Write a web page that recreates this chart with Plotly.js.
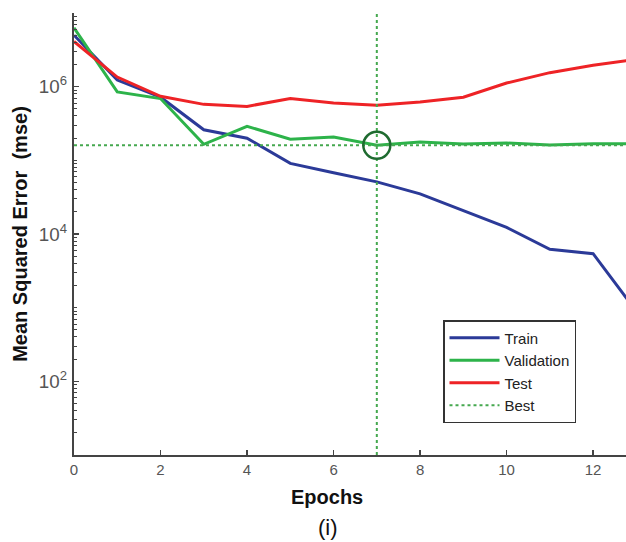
<!DOCTYPE html>
<html>
<head>
<meta charset="utf-8">
<script src="https://cdn.plot.ly/plotly-3.0.1.min.js"></script>
<style>html,body{margin:0;padding:0;background:#fff;}#plot{width:626px;height:542px;}</style>
</head>
<body>
<div id="plot"></div>
<script>
var epochs = [0,1,2,3,4,5,6,7,8,9,10,11,12,13];
var trainMSE = [5.0e6,1.23e6,7.2e5,2.6e5,2.0e5,9.1e4,6.8e4,5.1e4,3.5e4,2.1e4,1.23e4,6.2e3,5.4e3,890];
var valMSE   = [6.3e6,8.5e5,6.9e5,1.65e5,2.9e5,1.93e5,2.07e5,1.6e5,1.78e5,1.66e5,1.72e5,1.62e5,1.68e5,1.68e5];
var testMSE  = [4.1e6,1.35e6,7.4e5,5.75e5,5.4e5,6.9e5,6.0e5,5.6e5,6.2e5,7.2e5,1.12e6,1.55e6,1.95e6,2.35e6];
var bestEpoch = 7;
var bestVal = valMSE[bestEpoch];
var xMax = 12.76;
var seriesNames = ["Train","Validation","Test","Best"];

var cBlue = "#2b3a98", cGreen = "#2db34a", cRed = "#ee2326", cBest = "#45a84f";

var traces = [
  {x: epochs, y: trainMSE, mode: "lines", name: seriesNames[0], line: {color: cBlue, width: 3}},
  {x: epochs, y: valMSE, mode: "lines", name: seriesNames[1], line: {color: cGreen, width: 3}},
  {x: epochs, y: testMSE, mode: "lines", name: seriesNames[2], line: {color: cRed, width: 3}},
  {x: [0, 13], y: [bestVal, bestVal], mode: "lines", name: seriesNames[3], line: {color: cBest, width: 2, dash: "dot"}},
  {x: [bestEpoch, bestEpoch], y: [10, 1e7], mode: "lines", showlegend: false, line: {color: cBest, width: 2, dash: "dot"}},
  {x: [bestEpoch], y: [bestVal], mode: "markers", showlegend: false, yaxis: "y2",
   marker: {symbol: "circle-open", size: 27, color: "#1f6b30", line: {width: 2.5, color: "#1f6b30"}}}
];

var layout = {
  width: 626, height: 542,
  margin: {l: 74, r: 0, t: 13, b: 87},
  paper_bgcolor: "#fff", plot_bgcolor: "#fff",
  font: {family: "Liberation Sans, Arial, sans-serif", color: "#555"},
  showlegend: true,
  legend: {x: (443-74)/552, y: (455-320)/442, xanchor: "left", yanchor: "top",
    bgcolor: "#fff", bordercolor: "#333", borderwidth: 1.5, itemwidth: 50,
    font: {size: 15, color: "#222"}, tracegroupgap: 0},
  xaxis: {range: [0, xMax], tickmode: "array", tickvals: [0,2,4,6,8,10,12],
    ticks: "inside", ticklen: 5, tickwidth: 1.5, tickcolor: "#444",
    showline: true, linecolor: "#444", linewidth: 2, showgrid: false, zeroline: false,
    tickfont: {size: 15, color: "#555"}},
  yaxis: {type: "log", range: [1, 7], dtick: 2, exponentformat: "power",
    ticks: "inside", ticklen: 5, tickwidth: 1.5, tickcolor: "#444",
    showline: true, linecolor: "#444", linewidth: 2, showgrid: false, zeroline: false,
    tickfont: {size: 15, color: "#555"}, ticklabelstandoff: 2,
    title: {text: "Mean Squared Error  (mse)", font: {size: 20, color: "#111", weight: "bold"}, standoff: 6}},
  yaxis2: {type: "log", range: [1, 7], dtick: "D1", overlaying: "y", side: "left",
    ticks: "inside", ticklen: 3, tickwidth: 1, tickcolor: "#444",
    showticklabels: false, showline: false, showgrid: false, zeroline: false},
  annotations: [
    {text: "<b>Epochs</b>", xref: "paper", yref: "paper", x: (326.5-74)/552, y: (455-497)/442,
     xanchor: "center", yanchor: "middle", showarrow: false, font: {size: 20, color: "#111"}},
    {text: "(i)", xref: "paper", yref: "paper", x: (328-74)/552, y: (455-527)/442,
     xanchor: "center", yanchor: "middle", showarrow: false, font: {size: 22, color: "#111"}}
  ]
};

Plotly.newPlot("plot", traces, layout, {displayModeBar: false, staticPlot: true});
</script>
</body>
</html>
